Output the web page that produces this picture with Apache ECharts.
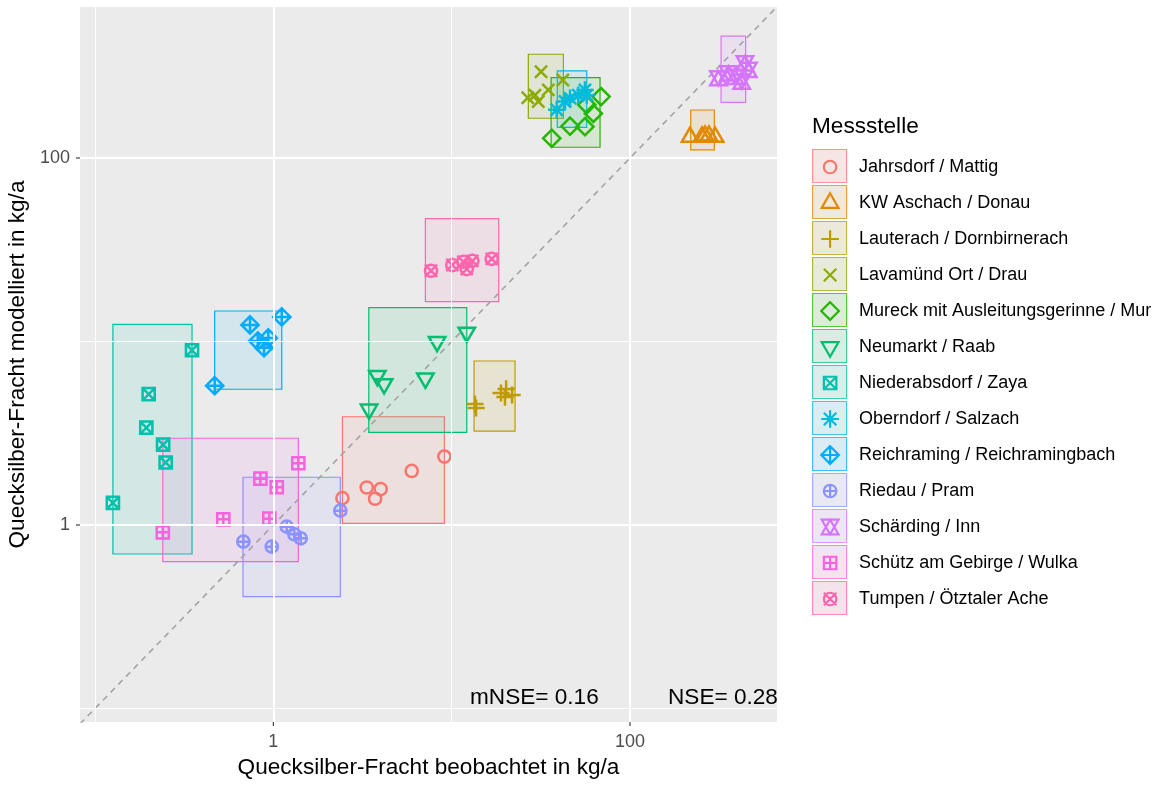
<!DOCTYPE html>
<html>
<head>
<meta charset="utf-8">
<script src="https://cdn.jsdelivr.net/npm/echarts@6/dist/echarts.min.js"></script>
<style>
  html, body { margin: 0; padding: 0; background: #ffffff; }
  #chart { width: 1164px; height: 785px; }
</style>
</head>
<body>
<div id="chart"></div>
<script>
// Measuring stations (legend order)
const stations = [
  'Jahrsdorf / Mattig',
  'KW Aschach / Donau',
  'Lauterach / Dornbirnerach',
  'Lavamünd Ort / Drau',
  'Mureck mit Ausleitungsgerinne / Mur',
  'Neumarkt / Raab',
  'Niederabsdorf / Zaya',
  'Oberndorf / Salzach',
  'Reichraming / Reichramingbach',
  'Riedau / Pram',
  'Schärding / Inn',
  'Schütz am Gebirge / Wulka',
  'Tumpen / Ötztaler Ache'
];

// Observed mercury load per station and year (kg/a)
const observed = [
  [9.10, 5.97, 3.34, 4.00, 3.72, 2.44],
  [217, 253, 263, 277, 300],
  [13.5, 13.7, 18.9, 20.2, 19.9, 21.8],
  [31.7, 42.0, 34.8, 29.3, 26.7, 30.6],
  [36.4, 46.1, 55.9, 62.3, 68.8, 57.2],
  [12.15, 8.28, 3.83, 4.18, 7.12, 3.44],
  [0.350, 0.200, 0.194, 0.241, 0.249, 0.126],
  [38.8, 43.2, 46.1, 51.3, 55.9, 57.2],
  [0.740, 1.115, 0.937, 0.818, 0.887, 0.469],
  [0.679, 0.980, 1.189, 1.311, 1.424, 2.375],
  [313, 356, 388, 423, 441, 461],
  [0.240, 0.524, 0.950, 0.846, 1.045, 1.381],
  [7.66, 10.08, 11.62, 13.06, 12.15, 16.77]
];

// Modelled mercury load per station and year (kg/a)
const modelled = [
  [2.36, 1.97, 1.60, 1.57, 1.39, 1.40],
  [130, 130, 132, 132, 130],
  [4.56, 4.34, 5.24, 5.51, 4.98, 5.11],
  [295, 266, 235, 220, 213, 203],
  [128, 149, 148, 175, 216, 195],
  [11.2, 9.97, 6.51, 5.87, 6.30, 4.27],
  [8.96, 5.16, 3.39, 2.74, 2.19, 1.32],
  [183, 203, 212, 220, 235, 220],
  [12.3, 13.6, 10.45, 10.06, 9.25, 5.74],
  [0.811, 0.762, 0.979, 0.890, 0.846, 1.197],
  [272, 289, 277, 261, 328, 302],
  [0.912, 1.074, 1.082, 1.788, 1.605, 2.17],
  [24.3, 26.1, 27.2, 27.5, 24.8, 28.2]
];

// Range boxes per station (observed range x modelled range, kg/a)
const boxObsMin = [2.44, 219, 13.35, 26.9, 36.1, 3.43, 0.126, 39.1, 0.469, 0.676, 324, 0.240, 7.12];
const boxObsMax = [9.10, 297, 22.66, 42.3, 67.9, 12.15, 0.350, 57.2, 1.115, 2.375, 445, 1.381, 18.36];
const boxModMin = [1.02, 110.6, 3.25, 164.6, 114.4, 3.20, 0.695, 147.0, 5.49, 0.407, 201, 0.631, 16.48];
const boxModMax = [3.89, 182.6, 7.83, 367.5, 273.9, 15.29, 12.41, 298, 14.66, 1.82, 462, 2.97, 46.7];

// Axis breaks
const majorBreaks = [1, 100];
const minorBreaks = [0.1, 10];

// Goodness-of-fit annotation
const fitStats = ['mNSE= 0.16', 'NSE= 0.28'];

// ---- styling ----
const palette = ['#F8766D', '#E18A00', '#BE9C00', '#8CAB00', '#24B700', '#00BE70', '#00C1AB',
                 '#00BBDA', '#00ACFC', '#8B93FF', '#D575FE', '#F962DD', '#FF65AC'];
const FONT = '"Liberation Sans", Arial, Helvetica, sans-serif';
const X_RANGE = [0.0824, 667];
const Y_RANGE = [0.0844, 665];

function rgba(hex, a) {
  const n = parseInt(hex.slice(1), 16);
  return 'rgba(' + (n >> 16 & 255) + ',' + (n >> 8 & 255) + ',' + (n & 255) + ',' + a + ')';
}
function blendOn(hex, bg, a) {
  const n = parseInt(hex.slice(1), 16);
  const c = [n >> 16 & 255, n >> 8 & 255, n & 255].map(v => Math.round(bg + (v - bg) * a));
  return 'rgb(' + c.join(',') + ')';
}

// Point glyphs (pch 1..13), drawn inside a fixed frame so all share one scale
const CIRC = 'M37.5 0 A37.5 37.5 0 1 1 -37.5 0 A37.5 37.5 0 1 1 37.5 0 Z ';
const SQ = 'M-37.5 -37.5 L37.5 -37.5 L37.5 37.5 L-37.5 37.5 Z ';
const X_S = 'M-37.5 -37.5 L37.5 37.5 M-37.5 37.5 L37.5 -37.5 ';
const P_S = 'M-37.5 0 L37.5 0 M0 -37.5 L0 37.5 ';
const P_L = 'M-53 0 L53 0 M0 -53 L0 53 ';
const DIAM = 'M0 -53 L53 0 L0 53 L-53 0 Z ';
const glyphShapes = [
  CIRC,
  'M0 -58.3 L50.5 29.2 L-50.5 29.2 Z',
  P_L,
  X_S,
  DIAM,
  'M0 58.3 L50.5 -29.2 L-50.5 -29.2 Z',
  SQ + X_S,
  X_S + P_L,
  DIAM + P_L,
  CIRC + P_S,
  'M0 -43.7 L50.5 43.7 L-50.5 43.7 Z M0 43.7 L50.5 -43.7 L-50.5 -43.7 Z',
  SQ + P_S,
  CIRC + X_S
];
// square frame for the plot marks
const glyphs = glyphShapes.map(g => 'path://M-60 -60 M60 60 ' + g);
// wider frame for legend icons: glyph sits at the left, leaving room before the label
const legendGlyphs = glyphShapes.map(g => 'path://M-60 -60 M144 60 ' + g);

const isBreak = (v, list) => list.some(b => Math.abs(Math.log10(v) - Math.log10(b)) < 1e-6);

// Panel grid lines (white, major thicker)
const gridLines = [];
majorBreaks.forEach(v => {
  gridLines.push({ xAxis: v, lineStyle: { width: 2 } });
  gridLines.push({ yAxis: v, lineStyle: { width: 2 } });
});
minorBreaks.forEach(v => {
  gridLines.push({ xAxis: v, lineStyle: { width: 1 } });
  gridLines.push({ yAxis: v, lineStyle: { width: 1 } });
});

// Range boxes
const boxData = stations.map((s, i) => [boxObsMin[i], boxModMin[i], boxObsMax[i], boxModMax[i], i]);

const series = [];

series.push({
  type: 'line', name: '_grid', data: [], z: 1, silent: true,
  markLine: {
    silent: true, symbol: ['none', 'none'], animation: false,
    label: { show: false },
    lineStyle: { color: '#FFFFFF', type: 'solid', width: 1 },
    emphasis: { disabled: true },
    data: gridLines
  }
});

series.push({
  type: 'custom', name: '_boxes', z: 2, silent: true,
  data: boxData,
  encode: { x: [0, 2], y: [1, 3] },
  renderItem: function (params, api) {
    const i = api.value(4);
    const p0 = api.coord([api.value(0), api.value(3)]);
    const p1 = api.coord([api.value(2), api.value(1)]);
    return {
      type: 'rect',
      shape: { x: p0[0], y: p0[1], width: p1[0] - p0[0], height: p1[1] - p0[1] },
      style: { fill: rgba(palette[i], 0.1), stroke: palette[i], lineWidth: 1.2 }
    };
  }
});

// 1:1 line
const lo = Math.min(X_RANGE[0], Y_RANGE[0]);
const hi = Math.max(X_RANGE[1], Y_RANGE[1]);
series.push({
  type: 'line', name: '_identity', z: 3, silent: true, clip: true,
  data: [[lo, lo], [hi, hi]],
  showSymbol: false, symbol: 'none',
  lineStyle: { color: '#A3A3A3', width: 1.6, type: [6, 5] }
});

// Axis tick marks at the major breaks
series.push({
  type: 'custom', name: '_xticks', z: 5, silent: true, clip: false,
  data: majorBreaks.map(v => [v, Y_RANGE[0]]),
  renderItem: function (params, api) {
    const p = api.coord([api.value(0), api.value(1)]);
    return { type: 'line', shape: { x1: p[0], y1: p[1], x2: p[0], y2: p[1] + 4 },
             style: { stroke: '#333333', lineWidth: 1.1 } };
  }
});
series.push({
  type: 'custom', name: '_yticks', z: 5, silent: true, clip: false,
  data: majorBreaks.map(v => [X_RANGE[0], v]),
  renderItem: function (params, api) {
    const p = api.coord([api.value(0), api.value(1)]);
    return { type: 'line', shape: { x1: p[0] - 4, y1: p[1], x2: p[0], y2: p[1] },
             style: { stroke: '#333333', lineWidth: 1.1 } };
  }
});

// Station points
stations.forEach((s, i) => {
  series.push({
    type: 'scatter', name: s, z: 4,
    data: observed[i].map((x, j) => [x, modelled[i][j]]),
    symbol: glyphs[i], symbolSize: 19.5, symbolKeepAspect: true,
    itemStyle: { color: 'rgba(0,0,0,0)', borderColor: palette[i], borderWidth: 2.5, opacity: 1 },
    emphasis: { disabled: true }
  });
});

const legendCommon = {
  orient: 'vertical', top: 148, itemGap: 0, padding: 0,
  selectedMode: false, inactiveColor: '#ccc',
  textStyle: { fontFamily: FONT, fontSize: 18, lineHeight: 36, color: '#000000' }
};

const option = {
  animation: false,
  backgroundColor: '#FFFFFF',
  textStyle: { fontFamily: FONT },
  grid: {
    left: 80, right: 387, top: 7, bottom: 63,
    containLabel: false, outerBoundsMode: 'none',
    show: true, backgroundColor: '#EBEBEB', borderWidth: 0
  },
  xAxis: {
    type: 'log', logBase: 10, min: X_RANGE[0], max: X_RANGE[1],
    name: 'Quecksilber-Fracht beobachtet in kg/a', nameLocation: 'middle', nameGap: 34,
    nameTextStyle: { fontFamily: FONT, fontSize: 22.6, color: '#000000' },
    axisLine: { show: false }, axisTick: { show: false }, splitLine: { show: false },
    minorTick: { show: false }, minorSplitLine: { show: false },
    axisLabel: {
      show: true, margin: 11, fontFamily: FONT, fontSize: 18, color: '#4D4D4D',
      showMinLabel: true, showMaxLabel: true, hideOverlap: false,
      formatter: v => isBreak(v, majorBreaks) ? String(Math.round(v)) : ''
    }
  },
  yAxis: {
    type: 'log', logBase: 10, min: Y_RANGE[0], max: Y_RANGE[1],
    name: 'Quecksilber-Fracht modelliert in kg/a', nameLocation: 'middle', nameGap: 42,
    nameTextStyle: { fontFamily: FONT, fontSize: 22.6, color: '#000000' },
    axisLine: { show: false }, axisTick: { show: false }, splitLine: { show: false },
    minorTick: { show: false }, minorSplitLine: { show: false },
    axisLabel: {
      show: true, margin: 10, fontFamily: FONT, fontSize: 18, color: '#4D4D4D',
      showMinLabel: true, showMaxLabel: true, hideOverlap: false,
      formatter: v => isBreak(v, majorBreaks) ? String(Math.round(v)) : ''
    }
  },
  title: {
    text: 'Messstelle', left: 812, top: 115, padding: 0,
    textStyle: { fontFamily: FONT, fontSize: 22.6, fontWeight: 'normal', color: '#000000' }
  },
  legend: [
    Object.assign({}, legendCommon, {
      id: 'keys', left: 812,
      itemWidth: 34, itemHeight: 33,
      textStyle: Object.assign({}, legendCommon.textStyle, { color: 'rgba(0,0,0,0)' }),
      data: stations.map((s, i) => ({
        name: s, icon: 'rect',
        itemStyle: { color: blendOn(palette[i], 242, 0.1), borderColor: rgba(palette[i], 0.75), borderWidth: 1.2 }
      }))
    }),
    Object.assign({}, legendCommon, {
      id: 'glyphs', left: 819, top: 149,
      itemWidth: 34, itemHeight: 20,
      data: stations.map((s, i) => ({
        name: s, icon: legendGlyphs[i],
        itemStyle: { color: 'rgba(0,0,0,0)', borderColor: palette[i], borderWidth: 2.2 }
      }))
    })
  ],
  graphic: [
    { type: 'text', left: 470, top: 686, silent: true,
      style: { text: fitStats[0], fontFamily: FONT, fontSize: 22.6, fill: '#000000' } },
    { type: 'text', left: 668, top: 686, silent: true,
      style: { text: fitStats[1], fontFamily: FONT, fontSize: 22.6, fill: '#000000' } }
  ],
  series: series
};

const chart = echarts.init(document.getElementById('chart'), null, { renderer: 'canvas' });
chart.setOption(option);
</script>
</body>
</html>
